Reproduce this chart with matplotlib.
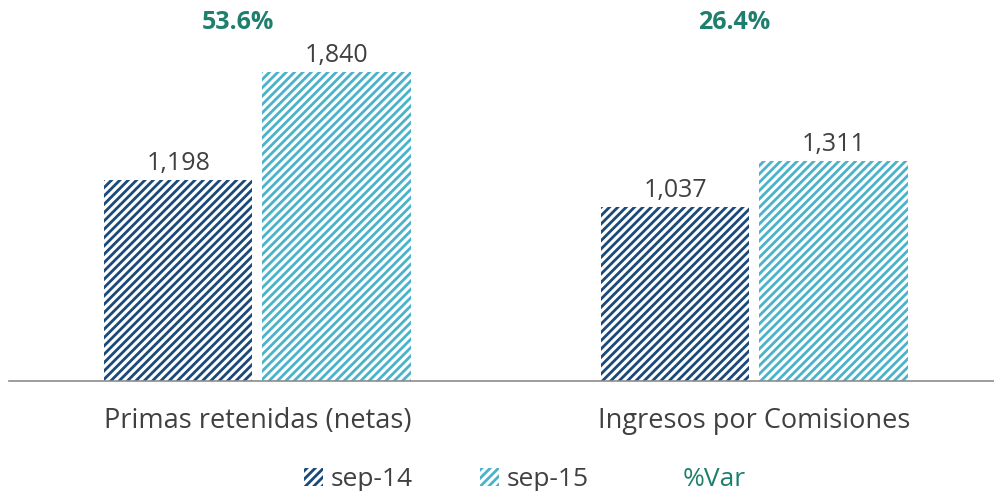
import matplotlib
matplotlib.use("Agg")
import matplotlib.pyplot as plt
from matplotlib.patches import Patch
from matplotlib.lines import Line2D
import numpy as np

categories = ["Primas retenidas (netas)", "Ingresos por Comisiones"]
sep14 = [1198, 1037]
sep15 = [1840, 1311]
var_pct = ["53.6%", "26.4%"]
series_names = ["sep-14", "sep-15", "%Var"]

dark = "#1B4A7A"
light = "#4BB3C9"
teal = "#1F7F6E"
txt = "#404040"

plt.rcParams['font.family'] = ['Open Sans', 'DejaVu Sans']
plt.rcParams['hatch.linewidth'] = 2.0

fig = plt.figure(figsize=(9.94, 4.91), dpi=100)
ax = fig.add_axes([0.009, 0.224, 1.0, 0.7515])

x = np.arange(len(categories))
w = 0.298
off = 0.159

b1 = ax.bar(x - off, sep14, w, facecolor="white", edgecolor=dark, hatch="////", linewidth=0)
b2 = ax.bar(x + off, sep15, w, facecolor="white", edgecolor=light, hatch="////", linewidth=0)

for rects, vals in ((b1, sep14), (b2, sep15)):
    for r, v in zip(rects, vals):
        ax.text(r.get_x() + r.get_width() / 2, v + 25, f"{v:,}", ha="center", va="bottom",
                fontsize=18, color=txt)

for xi, p in zip(x, var_pct):
    ax.text(xi - 0.04, 2140, p, ha="center", va="center", fontsize=18,
            fontweight="bold", color=teal)

ax.set_xlim(-0.5, 1.5)
ax.set_ylim(0, 2200)
ax.set_xticks(x)
ax.set_xticklabels(categories, fontsize=19.5, color=txt)
ax.tick_params(axis="x", length=0, pad=19)
ax.set_yticks([])
for s in ["top", "right", "left"]:
    ax.spines[s].set_visible(False)
ax.spines["bottom"].set_color("#8C8C8C")
ax.spines["bottom"].set_linewidth(1.2)

handles = [Patch(facecolor="white", edgecolor=dark, hatch="////", linewidth=0),
           Patch(facecolor="white", edgecolor=light, hatch="////", linewidth=0),
           Line2D([], [], color="none")]
leg = fig.legend(handles, series_names, loc="center", bbox_to_anchor=(0.528, 0.023), ncol=3,
                 frameon=False, fontsize=19, handlelength=0.7, handleheight=0.7,
                 handletextpad=0.3, columnspacing=2.55)
for t in leg.get_texts():
    t.set_color(txt)
leg.get_texts()[2].set_color(teal)

fig.savefig("out.png", dpi=100)
